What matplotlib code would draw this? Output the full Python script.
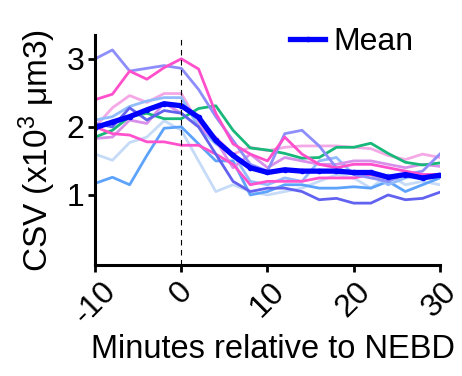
import numpy as np
import matplotlib
matplotlib.use('Agg')
import matplotlib.pyplot as plt

plt.rcParams['font.family'] = ['Liberation Sans', 'DejaVu Sans']
plt.rcParams['mathtext.fontset'] = 'custom'
plt.rcParams['mathtext.rm'] = 'Liberation Sans'
plt.rcParams['mathtext.it'] = 'Liberation Sans'

# minutes relative to NEBD
minutes = np.arange(-10, 31, 2)

# individual cells (CSV in x10^3 um3)
lavender = [3.0, 3.13, 2.82, 2.86, 2.9, 2.86, 2.55, 2.15, 1.8, 1.45, 1.35, 1.9, 1.95, 1.72, 1.4, 1.3, 1.25, 1.2, 1.3, 1.35, 1.6]
pink_hi = [2.4, 2.48, 2.82, 2.7, 2.87, 3.0, 2.85, 2.2, 1.75, 1.6, 1.5, 1.85, 1.6, 1.45, 1.4, 1.45, 1.45, 1.4, 1.35, 1.3, 1.3]
pink_lo = [2.0, 1.9, 1.88, 1.78, 1.78, 1.73, 1.73, 1.6, 1.45, 1.15, 1.2, 1.2, 1.2, 1.25, 1.25, 1.25, 1.3, 1.25, 1.3, 1.25, 1.3]
lightpink = [2.0, 2.28, 2.46, 2.36, 2.49, 2.49, 2.05, 1.85, 1.6, 1.7, 1.65, 1.7, 1.72, 1.72, 1.72, 1.7, 1.68, 1.58, 1.52, 1.6, 1.55]
orchid = [1.83, 1.85, 2.1, 2.05, 2.35, 2.2, 2.0, 1.8, 1.4, 1.6, 1.4, 1.55, 1.5, 1.45, 1.45, 1.5, 1.5, 1.45, 1.4, 1.45, 1.42]
indigo = [2.05, 2.0, 2.28, 2.1, 2.24, 2.2, 2.0, 1.6, 1.2, 1.05, 1.1, 1.1, 1.05, 0.93, 0.95, 0.88, 0.88, 1.0, 0.93, 0.95, 1.04]
skyblue = [1.17, 1.26, 1.15, 1.58, 1.98, 2.0, 1.75, 1.5, 1.5, 1.0, 1.05, 1.15, 1.15, 1.1, 1.1, 1.12, 1.1, 1.2, 1.05, 1.15, 1.25]
paleblue = [1.6, 1.51, 1.77, 1.85, 2.09, 1.95, 1.5, 1.05, 1.15, 1.05, 1.0, 1.05, 1.1, 1.2, 1.3, 1.25, 1.1, 1.3, 1.15, 1.2, 1.15]
lightblue = [2.1, 2.15, 2.3, 2.38, 2.43, 2.43, 2.0, 1.75, 1.6, 1.2, 1.15, 1.25, 1.2, 1.5, 1.55, 1.3, 1.3, 1.15, 1.25, 1.3, 1.3]
green = [1.85, 1.95, 2.15, 2.2, 2.12, 2.12, 2.27, 2.31, 1.95, 1.69, 1.66, 1.61, 1.54, 1.55, 1.7, 1.7, 1.76, 1.61, 1.48, 1.44, 1.47]
mean = [1.99, 2.07, 2.15, 2.25, 2.34, 2.31, 2.14, 1.8, 1.58, 1.4, 1.33, 1.37, 1.35, 1.35, 1.35, 1.33, 1.33, 1.26, 1.3, 1.25, 1.29]

cells = [
    (paleblue, '#c6dbf7'),
    (lightpink, '#f5a8e6'),
    (skyblue, '#5ea3fb'),
    (lightblue, '#92bcfb'),
    (orchid, '#d990ea'),
    (green, '#18b87a'),
    (pink_lo, '#ff52cc'),
    (indigo, '#6262f0'),
    (lavender, '#8d8dfb'),
    (pink_hi, '#ff4fcb'),
]

fig = plt.figure(figsize=(4.62, 3.76), dpi=100)
ax = fig.add_axes([0.206, 0.295, 0.746, 0.612])

for vals, c in cells:
    ax.plot(minutes, vals, color=c, lw=2.0)

ax.plot(minutes, mean, color='#0000ff', lw=3.8, marker='o', ms=3, label='Mean')
ax.axvline(0, color='black', lw=0.8, ls=(0, (5, 4)))

ax.set_xlim(-10, 30)
ax.set_ylim(-0.03, 3.35)
ax.set_xticks([-10, 0, 10, 20, 30])
ax.set_yticks([1, 2, 3])
ax.set_xticklabels(['-10', '0', '10', '20', '30'], rotation=45, ha='center')
ax.tick_params(labelsize=23, width=2, length=5, pad=3)
ax.spines['top'].set_visible(False)
ax.spines['right'].set_visible(False)
ax.spines['left'].set_linewidth(2.2)
ax.spines['bottom'].set_linewidth(2.2)

ax.set_xlabel('Minutes relative to NEBD', fontsize=23.5, labelpad=3)
ax.xaxis.set_label_coords(0.515, -0.3)
ax.set_ylabel('CSV (x10$^{3}$ μm3)', fontsize=24, labelpad=6)

ax.legend(loc='upper center', bbox_to_anchor=(0.745, 1.16), frameon=False,
          fontsize=23, handlelength=1.1, handletextpad=0.25)

fig.savefig('out.png', dpi=100)
